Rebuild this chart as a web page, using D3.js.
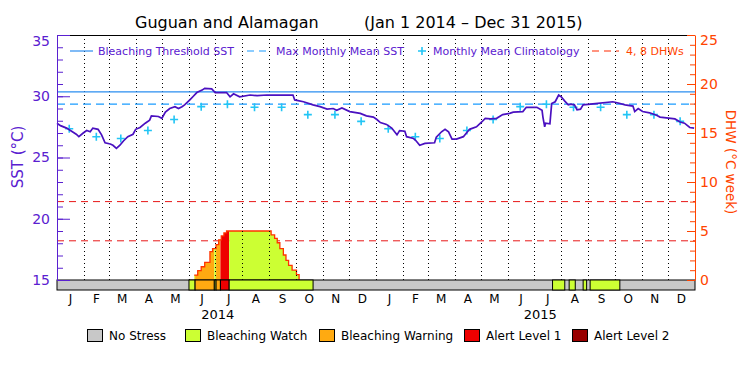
<!DOCTYPE html>
<html>
<head>
<meta charset="utf-8">
<script src="https://cdn.jsdelivr.net/npm/d3@7"></script>
<style>
  body { margin: 0; background: #fff; }
  svg { display: block; font-family: "DejaVu Sans", sans-serif; }
</style>
</head>
<body>
<div id="chart"></div>
<script>
// daily SST trace
const sstDates = ["2014-01-01","2014-01-05","2014-01-12","2014-01-23","2014-01-26","2014-01-31","2014-02-04","2014-02-08","2014-02-11","2014-02-17","2014-02-21","2014-02-25","2014-03-03","2014-03-06","2014-03-10","2014-03-14","2014-03-18","2014-03-23","2014-03-29","2014-04-01","2014-04-06","2014-04-12","2014-04-17","2014-04-19","2014-04-27","2014-05-01","2014-05-05","2014-05-10","2014-05-16","2014-05-20","2014-05-24","2014-05-27","2014-06-02","2014-06-06","2014-06-10","2014-06-16","2014-06-19","2014-06-27","2014-07-01","2014-07-14","2014-07-18","2014-07-22","2014-07-29","2014-08-10","2014-08-18","2014-08-29","2014-09-28","2014-09-30","2014-10-10","2014-10-21","2014-10-29","2014-11-06","2014-11-13","2014-11-17","2014-11-23","2014-12-02","2014-12-14","2014-12-21","2014-12-29","2015-01-02","2015-01-06","2015-01-13","2015-01-19","2015-01-25","2015-01-28","2015-02-03","2015-02-05","2015-02-13","2015-02-16","2015-02-20","2015-02-26","2015-03-09","2015-03-11","2015-03-17","2015-03-21","2015-03-25","2015-03-29","2015-04-03","2015-04-11","2015-04-18","2015-04-26","2015-05-02","2015-05-06","2015-05-12","2015-05-19","2015-05-26","2015-06-03","2015-06-07","2015-06-18","2015-06-22","2015-07-04","2015-07-10","2015-07-11","2015-07-13","2015-07-14","2015-07-19","2015-07-21","2015-07-25","2015-07-29","2015-08-01","2015-08-05","2015-08-09","2015-08-12","2015-08-16","2015-08-19","2015-08-23","2015-08-26","2015-09-09","2015-09-29","2015-10-05","2015-10-13","2015-10-22","2015-10-24","2015-10-28","2015-11-02","2015-11-10","2015-11-18","2015-11-22","2015-12-09","2015-12-15","2015-12-20","2015-12-26","2015-12-31"];
const sstValues = [27.8,27.6,27.4,26.9,26.7,27.0,27.2,27.1,27.4,27.3,26.85,26.2,26.1,26.0,25.75,26.0,26.35,26.7,26.9,27.3,27.45,27.8,28.05,28.4,28.35,28.2,28.7,29.0,29.15,29.0,29.15,29.3,29.7,30.0,30.3,30.5,30.65,30.6,30.3,30.3,29.95,30.2,29.95,30.1,30.05,30.1,30.1,29.7,29.55,29.3,29.15,28.95,29.0,28.85,29.05,28.75,28.6,28.4,28.3,28.1,27.85,27.7,27.4,26.85,27.2,27.15,26.7,26.55,26.35,26.0,26.15,26.2,26.65,27.1,27.3,27.1,26.5,26.5,26.7,27.3,27.5,27.9,28.2,28.15,28.2,28.5,28.6,28.7,28.75,29.1,29.1,28.85,28.3,27.5,27.8,27.75,29.4,29.55,30.1,29.95,29.6,29.3,29.35,29.3,28.9,28.95,29.3,29.4,29.55,29.45,29.3,29.2,28.75,29.0,28.75,28.65,28.45,28.3,28.15,27.9,27.8,27.45,27.4];

// monthly mean climatology (Jan..Dec)
const climValues = [27.35,26.7,26.55,27.2,28.1,29.15,29.35,29.1,29.1,28.5,28.5,27.95];
const mmm = 29.36;
const bleachingThreshold = 30.36;
const dhwLevels = [4, 8];

// degree heating weeks
const dhwDates = ["2014-06-07","2014-06-11","2014-06-15","2014-06-19","2014-06-25","2014-06-28","2014-07-02","2014-07-05","2014-07-08","2014-07-11","2014-07-14","2014-09-03","2014-09-07","2014-09-10","2014-09-13","2014-09-17","2014-09-20","2014-09-23","2014-09-27","2014-10-02","2014-10-05"];
const dhwValues = [0.5,0.95,1.35,1.8,2.9,3.2,3.6,4.1,4.5,4.8,5.0,4.6,4.25,3.8,3.2,2.55,2.0,1.5,1.0,0.55,0];

// stress level periods (1 watch, 2 warning, 3 alert 1, 4 alert 2)
const stressStart = ["2014-06-01","2014-06-08","2014-06-30","2014-07-02","2014-07-07","2014-07-17","2015-07-22","2015-08-10","2015-08-26","2015-09-03"];
const stressEnd   = ["2014-06-08","2014-06-30","2014-07-02","2014-07-07","2014-07-17","2014-10-21","2015-08-05","2015-08-17","2015-08-30","2015-10-07"];
const stressLevel = [1,2,1,2,3,1,1,1,1,1];

const stressNames = ["No Stress","Bleaching Watch","Bleaching Warning","Alert Level 1","Alert Level 2"];
const stressColors = ["#c8c8c8","#ccff33","#ffaa11","#ee0000","#990000"];

const sstTicks = [15,20,25,30,35];
const dhwTicks = [0,5,10,15,20,25];
const monthLetters = ["J","F","M","A","M","J","J","A","S","O","N","D"];
const yearLabels = ["2014","2015"];
const yearLabelDates = ["2014-07-04","2015-07-08"];

const width = 750, height = 375;
const mLeft = 57, mRight = 695, mTop = 35, mBottom = 280, barH = 10;
const purple = "#5a20d0", lineCol = "#4a10c0", orange = "#ff4400";

const parse = d3.utcParse("%Y-%m-%d");
const sst = sstDates.map((d, i) => ({date: parse(d), v: sstValues[i]}));
const dhw = dhwDates.map((d, i) => ({date: parse(d), v: dhwValues[i]}));
const stress = stressStart.map((d, i) => ({s: parse(d), e: parse(stressEnd[i]), lvl: stressLevel[i]}));

const x = d3.scaleUtc()
    .domain([parse("2014-01-01"), parse("2016-01-01")])
    .range([mLeft, mRight]);
const ySst = d3.scaleLinear().domain([15, 35]).range([mBottom, mTop]);
const yDhw = d3.scaleLinear().domain([0, 25]).range([mBottom, mTop]);

const svg = d3.select("#chart").append("svg")
    .attr("width", width)
    .attr("height", height)
    .attr("viewBox", [0, 0, width, height]);

// title
svg.append("text").attr("x", 135).attr("y", 28).attr("font-size", 16).attr("fill", "#000")
    .text("Guguan and Alamagan");
svg.append("text").attr("x", 364).attr("y", 28).attr("font-size", 16).attr("fill", "#000")
    .text("(Jan 1 2014 \u2013 Dec 31 2015)");

// clip paths per stress period
const defs = svg.append("defs");
stress.forEach((d, i) => {
  defs.append("clipPath").attr("id", "clip" + i)
    .append("rect")
      .attr("x", x(d.s)).attr("y", mTop)
      .attr("width", x(d.e) - x(d.s)).attr("height", mBottom - mTop);
});

// DHW reference lines
svg.append("g")
  .selectAll("line")
  .data(dhwLevels)
  .join("line")
    .attr("x1", mLeft).attr("x2", mRight)
    .attr("y1", d => yDhw(d)).attr("y2", d => yDhw(d))
    .attr("stroke", "#e81818")
    .attr("stroke-dasharray", "7,5");

// DHW area coloured by stress
const area = d3.area().curve(d3.curveStepAfter)
    .x(d => x(d.date)).y0(yDhw(0)).y1(d => yDhw(d.v));
stress.forEach((d, i) => {
  svg.append("path")
      .attr("d", area(dhw))
      .attr("fill", stressColors[d.lvl])
      .attr("clip-path", `url(#clip${i})`);
});
svg.append("path")
    .attr("d", d3.line().curve(d3.curveStepAfter).x(d => x(d.date)).y(d => yDhw(d.v))(dhw))
    .attr("fill", "none")
    .attr("stroke", "#ff3300")
    .attr("stroke-width", 1.3);

// month grid
const months = d3.utcMonth.range(parse("2014-02-01"), parse("2016-01-01"));
svg.append("g")
  .selectAll("line")
  .data(months)
  .join("line")
    .attr("x1", d => Math.round(x(d)) + 0.5).attr("x2", d => Math.round(x(d)) + 0.5)
    .attr("y1", mTop).attr("y2", mBottom)
    .attr("stroke", "#000")
    .attr("stroke-dasharray", "1,3");

// bleaching threshold + MMM
svg.append("line")
    .attr("x1", mLeft).attr("x2", mRight)
    .attr("y1", ySst(bleachingThreshold)).attr("y2", ySst(bleachingThreshold))
    .attr("stroke", "#2a8ef0").attr("stroke-width", 1.2);
svg.append("line")
    .attr("x1", mLeft).attr("x2", mRight)
    .attr("y1", ySst(mmm)).attr("y2", ySst(mmm))
    .attr("stroke", "#1a9cff").attr("stroke-width", 1.2)
    .attr("stroke-dasharray", "8,5");

// climatology crosses, both years
const clim = [];
[2014, 2015].forEach(yr => climValues.forEach((v, m) =>
  clim.push({date: new Date(Date.UTC(yr, m, 15)), v})));
svg.append("g")
  .selectAll("path")
  .data(clim)
  .join("path")
    .attr("d", d => {
      const cx = x(d.date), cy = ySst(d.v);
      return `M${cx - 4},${cy}H${cx + 4}M${cx},${cy - 4}V${cy + 4}`;
    })
    .attr("stroke", "#22c5f5")
    .attr("stroke-width", 1.6);

// SST line
svg.append("path")
    .attr("d", d3.line().x(d => x(d.date)).y(d => ySst(d.v))(sst))
    .attr("fill", "none")
    .attr("stroke", lineCol)
    .attr("stroke-width", 1.7);

// frame
svg.append("line").attr("x1", mLeft).attr("x2", mRight).attr("y1", mTop + 0.5).attr("y2", mTop + 0.5)
    .attr("stroke", "#000");

// stress bar
svg.append("rect")
    .attr("x", mLeft).attr("y", mBottom).attr("width", mRight - mLeft).attr("height", barH)
    .attr("fill", stressColors[0]).attr("stroke", "#000");
svg.append("g")
  .selectAll("rect")
  .data(stress)
  .join("rect")
    .attr("x", d => x(d.s)).attr("y", mBottom)
    .attr("width", d => x(d.e) - x(d.s)).attr("height", barH)
    .attr("fill", d => stressColors[d.lvl])
    .attr("stroke", "#000");

// left axis (SST)
const gl = svg.append("g").attr("transform", `translate(${mLeft},0)`).attr("color", purple);
gl.append("g")
    .call(d3.axisLeft(ySst).tickValues(d3.range(15, 36)).tickSize(-6).tickSizeOuter(0).tickFormat(""))
    .call(g => g.select(".domain").remove());
gl.append("g")
    .call(d3.axisLeft(ySst).tickValues(sstTicks).tickSize(-13).tickSizeOuter(0).tickPadding(7))
    .attr("font-family", "DejaVu Sans").attr("font-size", 14)
    .call(g => g.selectAll(".tick text").filter(d => d === 35).attr("dy", "0.75em"));

// right axis (DHW)
const gr = svg.append("g").attr("transform", `translate(${mRight},0)`).attr("color", orange);
gr.append("g")
    .call(d3.axisRight(yDhw).tickValues(d3.range(0, 26)).tickSize(-5).tickSizeOuter(0).tickFormat(""))
    .call(g => g.select(".domain").remove());
gr.append("g")
    .call(d3.axisRight(yDhw).tickValues(dhwTicks).tickSize(-8).tickSizeOuter(0).tickPadding(5))
    .attr("font-family", "DejaVu Sans").attr("font-size", 14)
    .call(g => g.selectAll(".tick text").filter(d => d === 25).attr("dy", "0.7em"));

// axis titles
svg.append("text")
    .attr("transform", "translate(23,157) rotate(-90)")
    .attr("text-anchor", "middle").attr("font-size", 15).attr("fill", purple)
    .text("SST (\u00B0C)");
svg.append("text")
    .attr("transform", "translate(726,162) rotate(90)")
    .attr("text-anchor", "middle").attr("font-size", 13.5).attr("fill", orange)
    .text("DHW (\u00B0C week)");

// month + year labels
const allMonths = d3.utcMonth.range(parse("2014-01-01"), parse("2016-01-01"));
svg.append("g")
  .selectAll("text")
  .data(allMonths)
  .join("text")
    .attr("x", d => (x(d) + x(d3.utcMonth.offset(d, 1))) / 2)
    .attr("y", 303)
    .attr("text-anchor", "middle").attr("font-size", 12).attr("fill", "#000")
    .text(d => monthLetters[d.getUTCMonth()]);
svg.append("g")
  .selectAll("text")
  .data(yearLabels)
  .join("text")
    .attr("x", (d, i) => x(parse(yearLabelDates[i])))
    .attr("y", 319)
    .attr("text-anchor", "middle").attr("font-size", 13).attr("fill", "#000")
    .text(d => d);

// top legend
const lg = svg.append("g").attr("font-size", 11);
const ly = 51;
lg.append("line").attr("x1", 70).attr("x2", 93).attr("y1", ly).attr("y2", ly)
    .attr("stroke", "#2a8ef0").attr("stroke-width", 1.2);
lg.append("text").attr("x", 98).attr("y", ly + 4).attr("fill", purple).text("Bleaching Threshold SST");
lg.append("line").attr("x1", 247).attr("x2", 271).attr("y1", ly).attr("y2", ly)
    .attr("stroke", "#1a9cff").attr("stroke-width", 1.2).attr("stroke-dasharray", "7,5");
lg.append("text").attr("x", 276).attr("y", ly + 4).attr("fill", purple).text("Max Monthly Mean SST");
lg.append("path").attr("d", `M418,${ly}H426M422,${ly - 4}V${ly + 4}`)
    .attr("stroke", "#22c5f5").attr("stroke-width", 1.6);
lg.append("text").attr("x", 433).attr("y", ly + 4).attr("fill", purple).text("Monthly Mean Climatology");
lg.append("line").attr("x1", 592).attr("x2", 619).attr("y1", ly).attr("y2", ly)
    .attr("stroke", "#ff2a00").attr("stroke-width", 1.2).attr("stroke-dasharray", "7,5");
lg.append("text").attr("x", 626).attr("y", ly + 4).attr("fill", orange).text("4, 8 DHWs");

// bottom legend
const legX = [87, 185, 319, 464, 572];
const bl = svg.append("g")
  .selectAll("g")
  .data(stressNames)
  .join("g")
    .attr("transform", (d, i) => `translate(${legX[i]},329)`);
bl.append("rect").attr("x", 0.5).attr("y", 0.5).attr("width", 15).attr("height", 12)
    .attr("fill", (d, i) => stressColors[i]).attr("stroke", "#000");
bl.append("text").attr("x", 22).attr("y", 11).attr("font-size", 12).attr("fill", "#000")
    .text(d => d);
</script>
</body>
</html>
